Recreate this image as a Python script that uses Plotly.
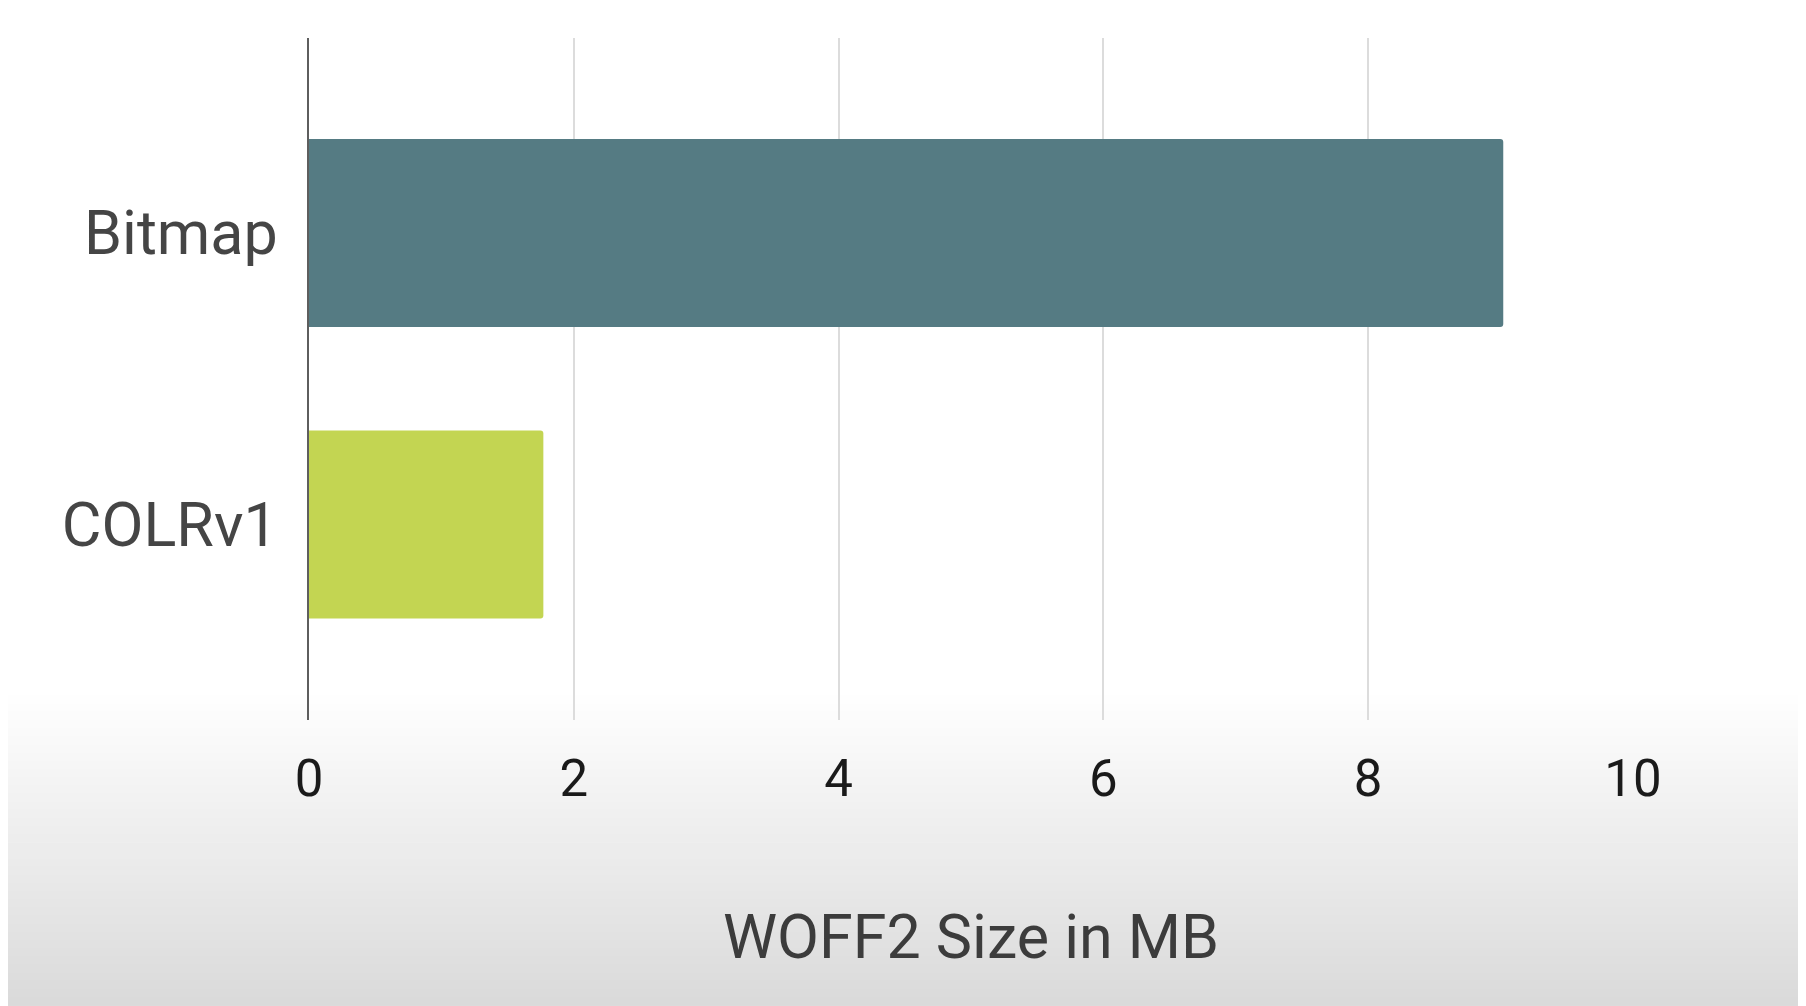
import plotly.graph_objects as go

categories = ["Bitmap", "COLRv1"]
sizes_mb = [9.02, 1.77]
bar_colors = ["#557b83", "#c3d552"]
x_ticks = [0, 2, 4, 6, 8, 10]

W, H = 1806, 1006
ML, MR, MT, MB = 301, 181, 30, 294
plot_h = H - MT - MB

fig = go.Figure(go.Bar(
    y=categories, x=sizes_mb, orientation="h",
    marker=dict(color=bar_colors, line=dict(width=0)),
    width=0.645,
))

# soft gray gradient at the bottom of the slide
shapes = []
g_top, g_bot = 680, H
n = 40
for i in range(n):
    p0 = g_top + (g_bot - g_top) * i / n
    p1 = g_top + (g_bot - g_top) * (i + 1) / n
    t = (i + 0.5) / n
    c = int(round(255 - (255 - 217) * t))
    shapes.append(dict(
        type="rect", xref="paper", yref="paper", layer="below",
        x0=-ML / (W - ML - MR) - 0.01, x1=1 + MR / (W - ML - MR) + 0.01,
        y0=(H - MB - p1) / plot_h, y1=(H - MB - p0) / plot_h + 0.001,
        fillcolor=f"rgb({c},{c},{c})", line=dict(width=0),
    ))

fig.update_layout(
    width=W, height=H,
    margin=dict(l=ML, r=MR, t=MT, b=MB),
    paper_bgcolor="white", plot_bgcolor="rgba(0,0,0,0)",
    showlegend=False,
    barcornerradius=3,
    font=dict(family="Roboto", color="#444444"),
    shapes=shapes,
    xaxis=dict(
        range=[0, 10], tickvals=x_ticks, ticktext=[str(v) for v in x_ticks],
        showgrid=True, gridcolor="#dcdcdc", gridwidth=2,
        zeroline=False, showline=False,
        tickfont=dict(family="Roboto", size=51, color="#1a1a1a"),
        ticks="", ticklabelstandoff=24,
        title=dict(text="WOFF2 Size in MB", font=dict(family="Roboto", size=61, color="#3c3c3c"), standoff=108),
    ),
    yaxis=dict(
        categoryorder="array", categoryarray=categories,
        range=[1.671, -0.669],
        showgrid=False, zeroline=False,
        showline=True, linecolor="#5e5e5e", linewidth=2,
        tickfont=dict(family="Roboto", size=61, color="#454545"),
        ticks="", ticklabelstandoff=17,
    ),
)

fig.write_html("out.html")
